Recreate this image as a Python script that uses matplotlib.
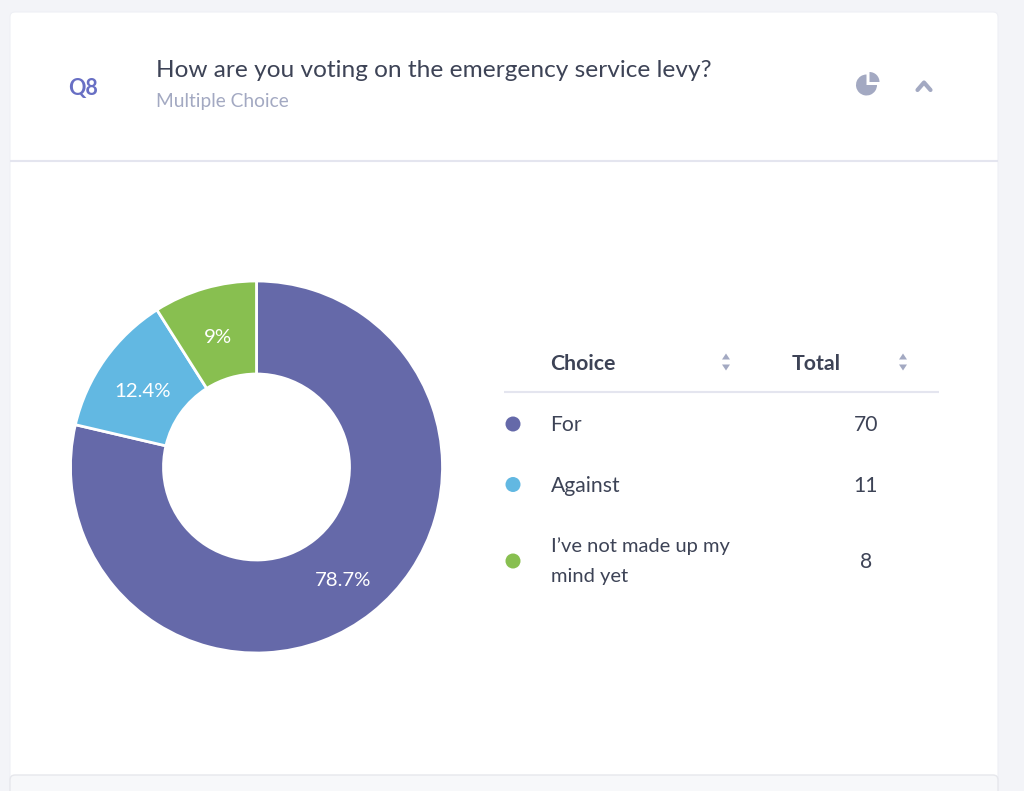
import matplotlib
matplotlib.use("Agg")
import matplotlib.pyplot as plt
from matplotlib.patches import FancyBboxPatch, Wedge, Circle, Polygon

plt.rcParams['font.family'] = ['Lato', 'DejaVu Sans']

choices = ["For", "Against", "I\u2019ve not made up my\nmind yet"]
totals = [70, 11, 8]
pct_labels = ["78.7%", "12.4%", "9%"]
colors = ["#6569a9", "#62b8e2", "#88bf50"]

W, H = 1024, 791
DARK = "#3d4356"
GREY = "#a3a9c2"
LINE = "#e4e5ef"

fig = plt.figure(figsize=(W / 100, H / 100), dpi=100, facecolor="#f3f4f8")

# page layer in pixel coordinates
bg = fig.add_axes([0, 0, 1, 1])
bg.set_xlim(0, W)
bg.set_ylim(H, 0)
bg.axis("off")

# cards
bg.add_patch(FancyBboxPatch((10, 12), 988, 900, boxstyle="round,pad=0,rounding_size=5",
                            fc="white", ec="#eef0f5", lw=0.8, clip_on=True))
bg.add_patch(FancyBboxPatch((10, 775), 988, 40, boxstyle="round,pad=0,rounding_size=5",
                            fc="#f7f8fa", ec="#e6e7ec", lw=1, clip_on=True))
bg.plot([10, 998], [160.5, 160.5], color=LINE, lw=1.5, solid_capstyle="butt")

# header
bg.text(83, 88, "Q8", color="#686fc4", fontsize=15.5, fontweight="bold", ha="center", va="center")
bg.text(156, 70.5, "How are you voting on the emergency service levy?", color=DARK,
        fontsize=17.55, ha="left", va="center")
bg.text(156, 102, "Multiple Choice", color=GREY, fontsize=13.8, ha="left", va="center")

# pie icon, y axis is flipped so angles run clockwise
bg.add_patch(Wedge((866.5, 85), 10.5, 0, 270, fc=GREY, ec="none"))
bg.add_patch(Wedge((869.5, 82), 10, 270, 360, fc=GREY, ec="none"))

# chevron
bg.plot([917.5, 924, 930.5], [90, 82.5, 90], color=GREY, lw=3, solid_capstyle="round",
        solid_joinstyle="round")

# table header
bg.text(550.5, 363.5, "Choice", color=DARK, fontsize=15.3, fontweight="bold", ha="left", va="center")
bg.text(792, 363.5, "Total", color=DARK, fontsize=15.3, fontweight="bold", ha="left", va="center")
for x in [726, 903]:
    bg.add_patch(Polygon([(x - 4, 359.5), (x + 4, 359.5), (x, 353.5)], fc=GREY, ec="none"))
    bg.add_patch(Polygon([(x - 4, 364.5), (x + 4, 364.5), (x, 370.5)], fc=GREY, ec="none"))
bg.plot([504, 939], [391.5, 391.5], color=LINE, lw=1.5, solid_capstyle="butt")

# table rows
row_y = [424, 484.5, 561]
for name, total, col, y in zip(choices, totals, colors, row_y):
    bg.add_patch(Circle((513, y), 7.5, fc=col, ec="none"))
    if "\n" in name:
        bg.text(551, y, name, color=DARK, fontsize=14.5, ha="left", va="center", linespacing=1.98)
    else:
        bg.text(550.5, y + 1, name, color=DARK, fontsize=15.2, ha="left", va="center")
    bg.text(866, y + 1, str(total), color=DARK, fontsize=15.2, ha="center", va="center")

# donut
cx, cy, r = 256.5, 467, 186
ax = fig.add_axes([(cx - r) / W, 1 - (cy + r) / H, 2 * r / W, 2 * r / H])
wedges, _ = ax.pie(totals, colors=colors, startangle=90, counterclock=False, radius=1,
                   wedgeprops=dict(width=0.5, edgecolor="white", linewidth=2))
ax.set_xlim(-1, 1)
ax.set_ylim(-1, 1)
ax.set_aspect("equal")

label_pos = [(343.5, 581), (142.5, 391.5), (218, 337.5)]
for txt, (x, y) in zip(pct_labels, label_pos):
    ax.text((x - cx) / r, (cy - y) / r, txt, color="white", fontsize=14.7, ha="center", va="center")

fig.savefig("out.png", dpi=100, facecolor=fig.get_facecolor())
